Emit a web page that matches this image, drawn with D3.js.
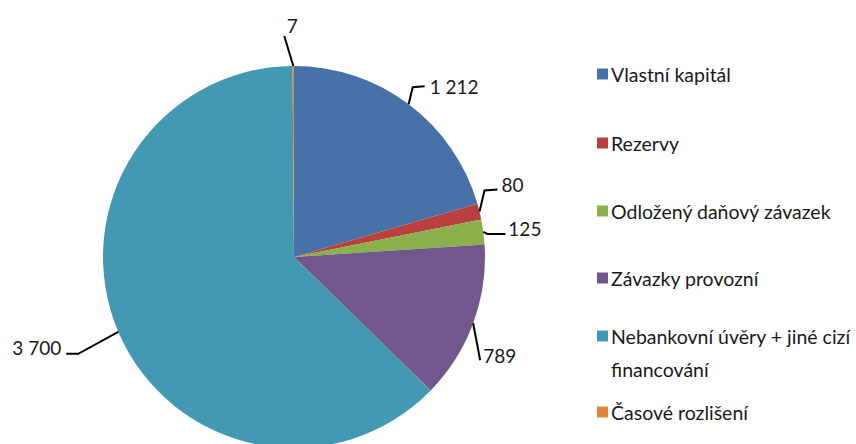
<!DOCTYPE html>
<html>
<head>
	<meta charset="utf-8">
	<title>Pie chart in D3</title>
	<script src="https://d3js.org/d3.v7.min.js"></script>
	<style>
		body { margin: 0; background: #fff; }
		text { font-family: Lato, "Open Sans", sans-serif; fill: #1a1a1a; }
		.leader { fill: none; stroke: #000; stroke-width: 2; }
	</style>
</head>
<body>
	<div id="plot"></div>
	<script type="text/javascript">
		// data
		var categories = ["Vlastní kapitál", "Rezervy", "Odložený daňový závazek", "Závazky provozní",
			"Nebankovní úvěry + jiné cizí financování", "Časové rozlišení"];
		var values = [1212, 80, 125, 789, 3700, 7];
		var valueLabels = ["1 212", "80", "125", "789", "3 700", "7"];
		var colors = ["#4672a8", "#b8413f", "#8ab04b", "#72578f", "#4399b1", "#e1843a"];

		var w = 856, h = 444;
		var cx = 294, cy = 257, r = 191;

		var svg = d3.select("#plot").append("svg")
			.attr("width", w).attr("height", h);

		var pie = d3.pie().sort(null).value(function(d) { return d; });
		var arcs = pie(values);
		var arc = d3.arc().innerRadius(0).outerRadius(r);

		var g = svg.append("g").attr("transform", "translate(" + cx + "," + cy + ")");

		g.selectAll("path.slice")
			.data(arcs)
			.enter().append("path")
			.attr("class", "slice")
			.attr("d", arc)
			.attr("fill", function(d, i) { return colors[i]; });

		// leader lines: point on arc -> elbow -> end, then the label (offsets from arc point)
		var leader = [
			{ elbow: [4, -17], end: [16, -18], text: [21, -18], anchor: "start" },
			{ elbow: [5, -21], end: [18, -22], text: [22, -27], anchor: "start" },
			{ elbow: [4, 2], end: [22, 2], text: [25, -3], anchor: "start" },
			{ elbow: [7, 37], end: [7, 37], text: [10, 32], anchor: "start" },
			{ elbow: [-40, 22], end: [-52, 22], text: [-57, 16], anchor: "end" },
			{ elbow: [-9, -30], end: [-9, -30], text: [-1, -41], anchor: "middle" }
		];

		function arcPoint(d) {
			var a = (d.startAngle + d.endAngle) / 2;
			return [Math.sin(a) * r, -Math.cos(a) * r];
		}

		arcs.forEach(function(d, i) {
			var p = arcPoint(d), L = leader[i];
			var pts = [p, [p[0] + L.elbow[0], p[1] + L.elbow[1]], [p[0] + L.end[0], p[1] + L.end[1]]];
			g.append("path")
				.attr("class", "leader")
				.attr("d", d3.line()(pts));
			g.append("text")
				.attr("x", p[0] + L.text[0])
				.attr("y", p[1] + L.text[1])
				.attr("text-anchor", L.anchor)
				.attr("dominant-baseline", "central")
				.style("font-size", "19px")
				.text(valueLabels[i]);
		});

		// legend
		var legendX = 597, legendTextX = 611, maxTextW = 244;
		var legendY = [74, 143, 211, 278, 336, 412];

		var legend = svg.selectAll("g.legend")
			.data(categories)
			.enter().append("g")
			.attr("class", "legend")
			.attr("transform", function(d, i) { return "translate(0," + legendY[i] + ")"; });

		legend.append("rect")
			.attr("x", legendX).attr("y", -5.5)
			.attr("width", 11).attr("height", 11)
			.attr("fill", function(d, i) { return colors[i]; });

		legend.each(function(d) {
			var t = d3.select(this).append("text")
				.attr("x", legendTextX)
				.attr("dominant-baseline", "central")
				.style("font-size", "19.5px");
			// simple word wrap
			var words = d.split(" "), line = [];
			var tspan = t.append("tspan").attr("x", legendTextX).attr("dy", 0);
			words.forEach(function(word) {
				line.push(word);
				tspan.text(line.join(" "));
				if (tspan.node().getComputedTextLength() > maxTextW && line.length > 1) {
					line.pop();
					tspan.text(line.join(" "));
					line = [word];
					tspan = t.append("tspan").attr("x", legendTextX).attr("dy", 33).text(word);
				}
			});
		});
	</script>
</body>
</html>
